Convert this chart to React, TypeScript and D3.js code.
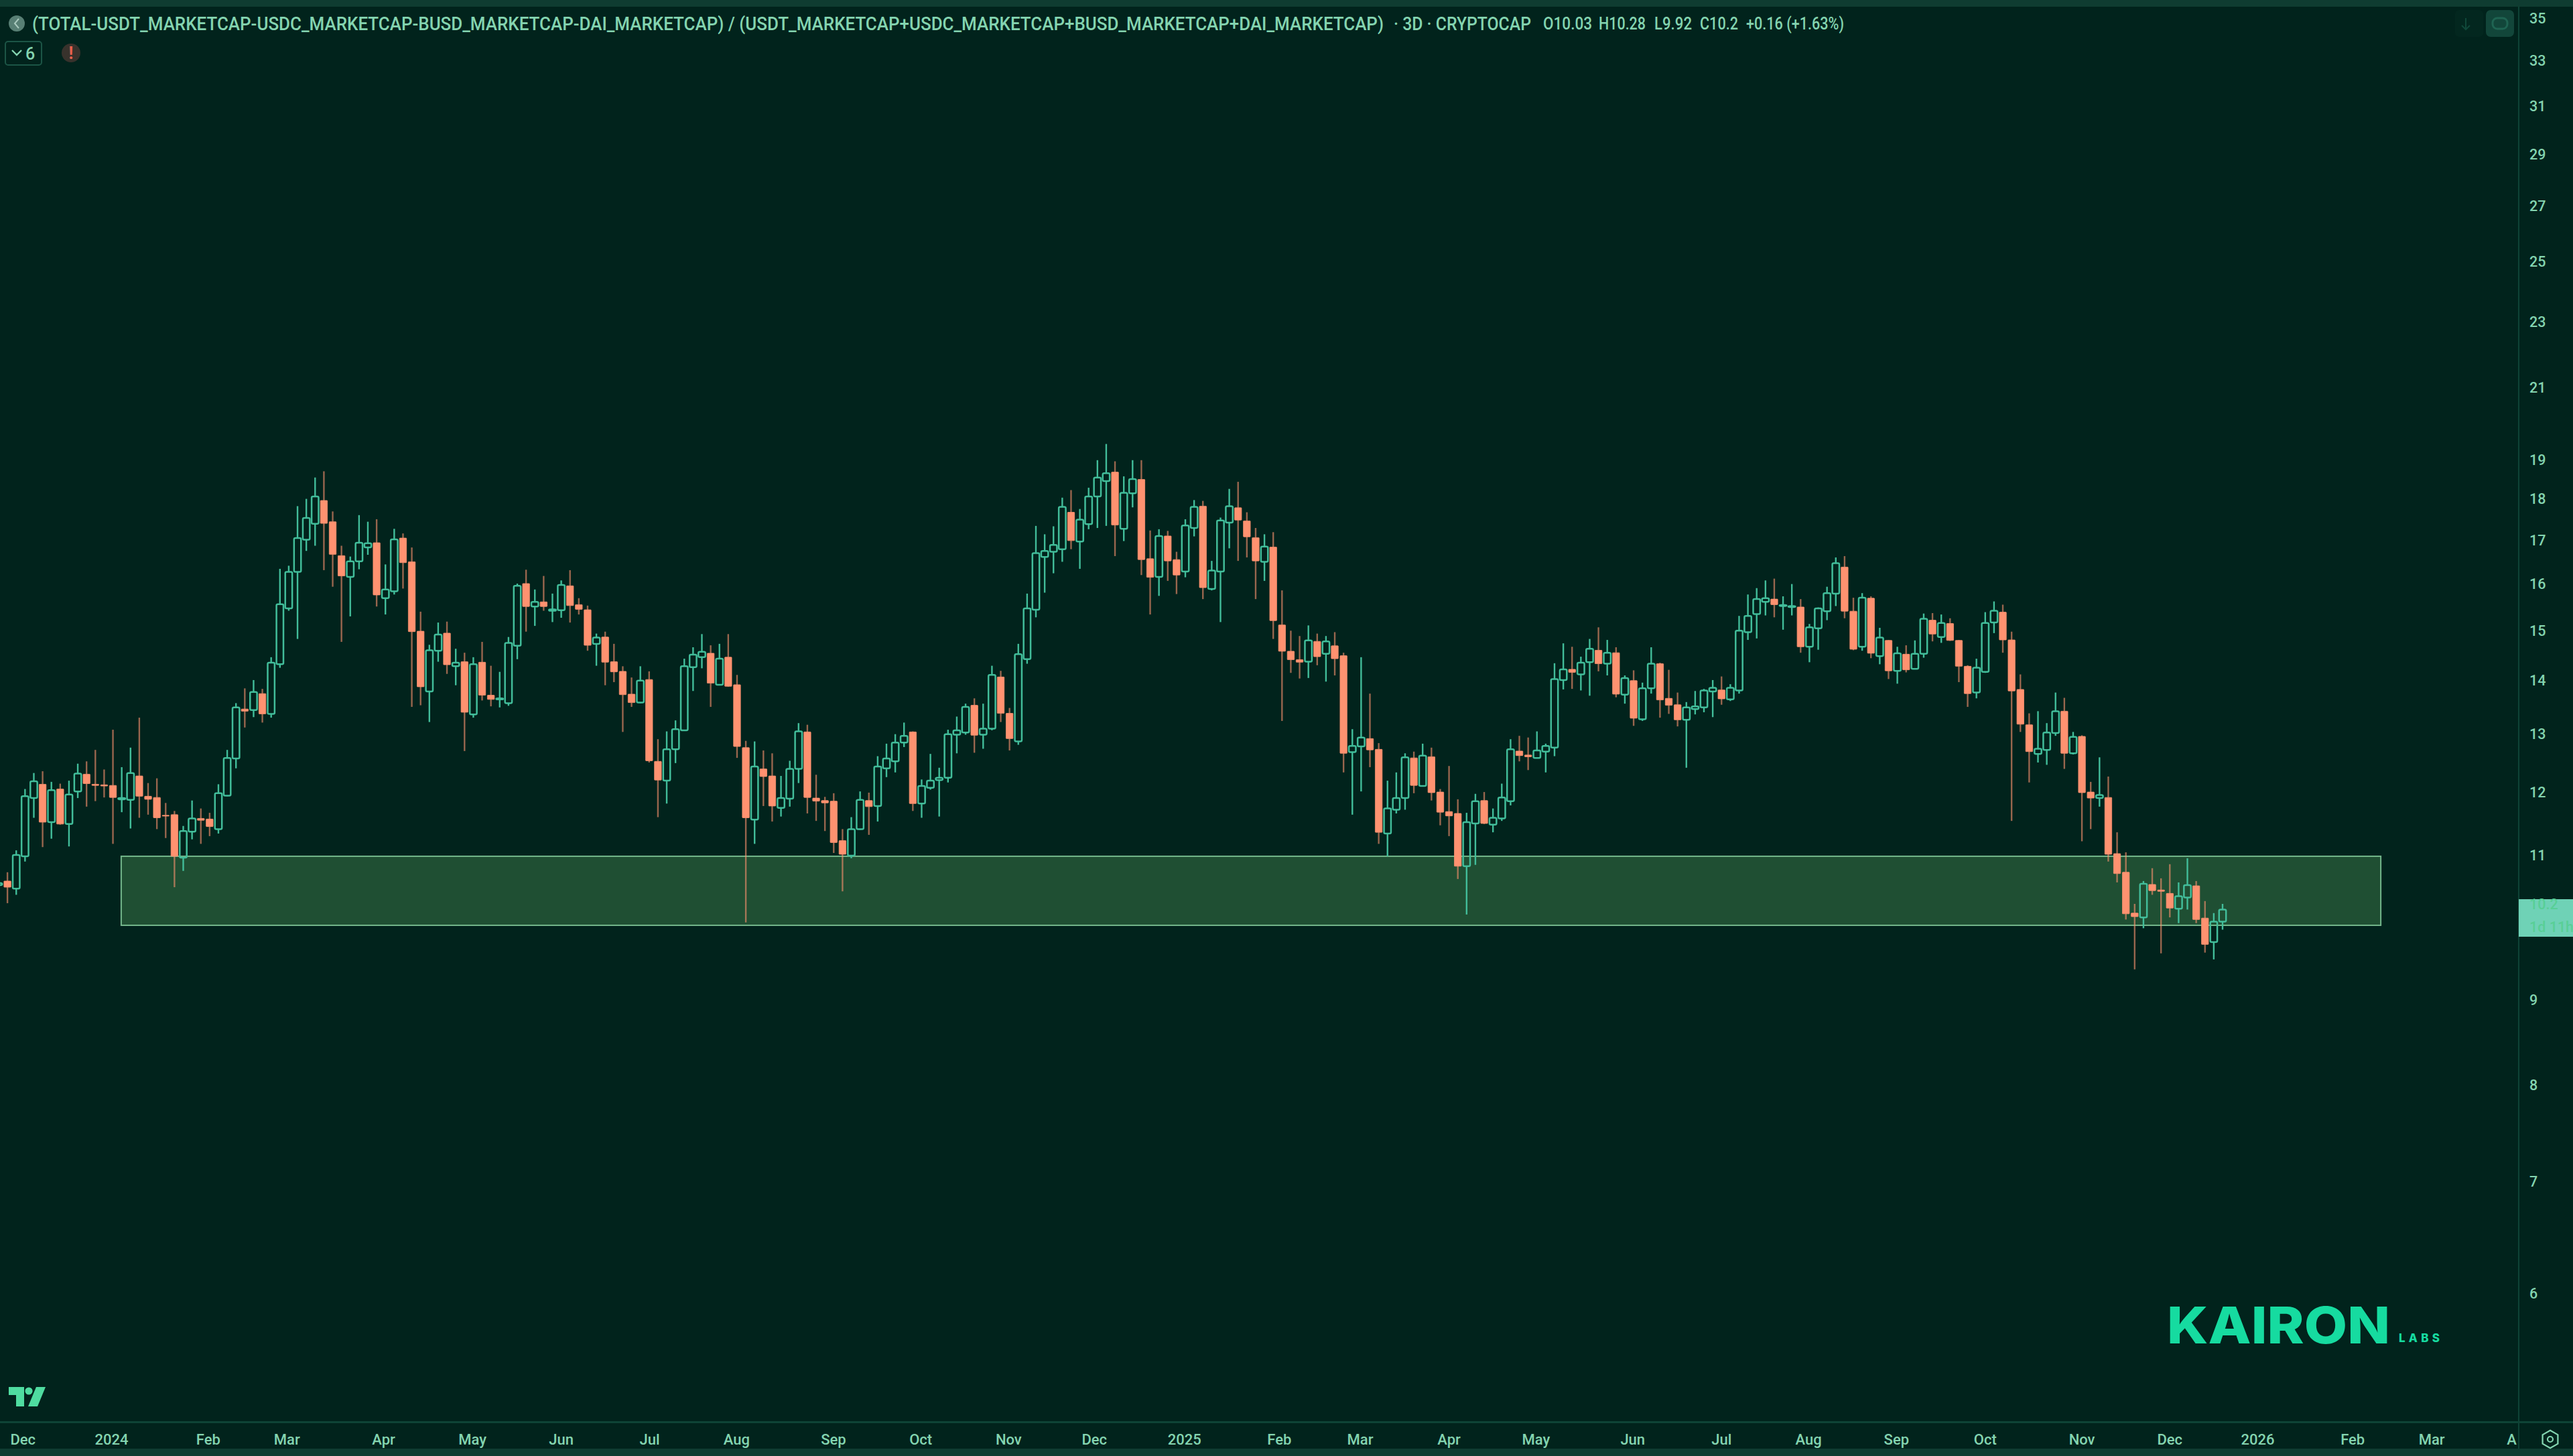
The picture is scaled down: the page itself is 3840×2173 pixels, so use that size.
import React from "react";
import * as d3 from "d3";

const opens = [10.55,10.61,10.50,10.98,11.90,12.13,11.51,12.05,11.48,12.01,12.30,12.13,12.12,12.11,11.88,11.87,12.27,11.93,11.91,11.62,11.63,10.96,11.36,11.57,11.56,11.40,11.94,12.57,13.46,13.44,13.75,13.37,14.32,15.47,16.27,17.01,17.39,17.96,17.44,16.64,16.16,16.51,16.83,16.94,15.69,15.84,17.05,16.50,14.99,13.79,14.59,14.95,14.28,14.37,13.36,14.36,13.72,13.64,13.57,14.69,16.01,15.51,15.61,15.42,15.43,15.96,15.55,15.44,14.73,14.87,14.37,14.18,13.74,13.58,14.02,12.52,12.19,12.73,13.07,14.26,14.46,14.54,13.92,14.46,13.92,12.76,11.55,12.39,12.27,11.74,11.89,12.39,13.04,11.90,11.86,11.85,11.22,10.99,11.40,11.86,11.77,12.40,12.52,12.85,13.04,11.81,12.07,
12.20,12.24,12.99,13.03,13.53,12.99,13.10,14.07,13.38,12.87,14.42,15.44,16.61,16.73,16.79,17.67,16.97,17.38,18.06,18.45,18.68,17.27,18.14,18.49,16.57,16.16,17.10,16.55,16.28,17.29,17.82,15.89,16.28,17.42,17.78,17.46,17.06,16.50,16.84,15.12,14.58,14.41,14.37,14.78,14.53,14.69,14.49,12.68,12.78,12.92,12.73,11.33,11.71,11.90,
12.58,12.10,12.60,12.00,11.68,11.65,10.83,11.49,11.86,11.47,11.57,11.85,12.70,12.63,12.58,12.69,12.76,14.01,14.22,14.12,14.36,14.60,14.33,14.55,13.73,14.00,13.27,13.85,14.33,13.66,13.54,13.26,13.46,13.49,13.79,13.82,13.64,13.81,14.97,15.35,15.61,15.67,15.52,15.50,15.50,14.67,15.05,15.41,15.79,16.38,15.41,14.67,15.69,
14.48,14.80,14.19,14.52,14.23,14.53,15.22,14.87,15.15,14.80,14.28,13.77,14.17,15.17,15.39,14.81,13.83,13.17,12.65,12.72,13.02,13.42,12.66,12.96,12.00,11.90,11.91,11.02,10.74,10.15,10.09,10.56,10.48,10.43,10.21,10.37,10.54,10.08,9.75,10.03];

const highs = [10.60,10.74,11.07,12.05,12.32,12.35,12.17,12.14,12.19,12.48,12.52,12.72,12.38,13.08,12.42,12.76,13.30,12.15,12.23,11.82,11.69,11.45,11.86,11.73,11.66,12.13,12.72,13.57,13.85,14.01,13.84,14.46,16.34,16.41,17.82,18.00,18.54,18.70,17.69,16.87,16.62,17.60,17.44,17.50,16.44,17.27,17.16,16.83,15.40,14.71,15.17,15.19,14.63,14.55,14.46,14.77,14.29,14.17,14.87,16.01,16.32,15.88,16.18,15.79,16.08,16.31,15.69,15.53,14.94,14.98,14.73,14.28,14.06,14.28,14.18,12.91,13.05,13.25,14.43,14.66,14.93,14.70,14.73,14.93,14.11,12.88,12.87,12.71,12.66,12.27,12.53,13.20,13.17,12.29,11.92,11.98,11.40,11.59,12.01,11.99,12.61,12.83,13.00,13.21,13.05,12.21,12.65,
12.41,13.08,13.32,13.56,13.66,13.56,14.29,14.19,13.48,14.73,15.79,17.34,17.14,17.33,18.03,18.22,17.75,18.28,18.99,19.42,18.96,18.57,18.99,18.99,17.23,17.26,17.22,16.73,17.50,17.97,17.95,16.52,17.54,18.25,18.43,17.67,17.29,17.14,17.19,15.86,15.00,14.89,15.11,14.94,14.89,14.97,14.55,13.09,14.46,13.75,12.84,12.19,12.33,12.66,
12.69,12.83,12.76,12.05,12.44,11.88,11.66,11.97,12.00,11.73,12.14,12.91,12.97,12.94,13.05,12.83,14.34,14.74,14.67,14.47,14.83,15.07,14.81,14.66,14.10,14.20,13.96,14.66,14.35,14.21,13.77,13.59,13.80,13.84,14.01,14.08,13.93,15.31,15.77,15.91,16.08,16.12,15.73,16.00,15.67,15.14,15.49,15.94,16.60,16.63,15.70,15.80,15.73,
15.06,14.81,14.67,14.70,14.80,15.36,15.37,15.34,15.26,14.81,14.30,14.43,15.39,15.62,15.55,14.98,14.12,13.38,13.42,13.20,13.77,13.67,13.04,12.98,12.17,12.59,12.26,11.35,11.04,10.28,10.61,10.80,10.65,10.86,10.59,10.95,10.61,10.32,10.15,10.28];

const lows = [10.48,10.29,10.41,10.90,11.58,11.12,11.25,11.47,11.13,11.90,11.76,11.85,11.91,11.17,11.67,11.41,11.58,11.63,11.40,11.26,10.52,10.76,11.24,11.17,11.29,11.33,11.93,12.40,13.12,13.31,13.21,13.30,14.25,15.42,14.83,16.75,16.87,16.31,15.94,14.77,15.30,16.33,16.66,15.51,15.34,15.77,15.90,13.50,13.53,13.22,14.37,14.13,13.91,12.70,13.30,13.62,13.51,13.49,13.52,14.42,14.98,15.10,15.42,15.18,15.27,15.17,15.34,14.59,14.29,13.91,13.97,13.04,13.50,13.57,12.50,11.59,11.81,12.49,13.06,13.80,14.24,13.50,13.91,13.88,12.58,10.02,11.17,11.77,11.52,11.60,11.76,12.15,11.65,11.53,11.37,11.03,10.46,10.95,11.39,11.31,11.52,12.25,12.33,12.77,11.69,11.58,12.04,
11.60,12.16,12.66,12.99,12.67,12.74,13.07,13.22,12.71,12.81,14.33,15.28,15.81,16.24,16.50,16.79,16.34,17.26,17.29,17.34,16.63,16.98,17.79,16.20,15.34,15.74,16.07,15.78,16.15,17.09,15.67,15.86,15.18,16.81,16.52,16.60,15.67,16.07,14.83,13.24,14.15,14.04,14.05,14.30,13.98,14.10,12.33,11.63,12.01,12.42,11.17,10.98,11.65,11.71,
11.98,12.09,11.86,11.46,11.29,10.64,10.13,10.85,11.48,11.35,11.53,11.78,12.52,12.37,12.57,12.33,12.61,13.83,13.84,13.81,13.71,14.18,14.10,13.68,13.56,13.15,13.24,13.75,13.30,13.37,13.14,12.41,13.36,13.40,13.31,13.54,13.61,13.75,14.81,14.84,15.32,15.28,15.02,15.32,14.55,14.36,14.61,15.22,15.52,15.26,14.60,14.59,14.44,
14.32,14.03,13.94,14.16,14.22,14.45,14.78,14.75,14.79,13.97,13.50,13.66,14.15,14.95,14.55,11.53,13.04,12.16,12.50,12.46,12.97,12.39,12.64,11.21,11.40,11.76,10.90,10.59,10.06,9.39,9.94,10.41,9.60,10.09,10.01,10.20,10.01,9.61,9.52,9.92];

const closes = [10.58,10.52,11.00,11.93,12.18,11.51,12.03,11.48,11.96,12.31,12.14,12.11,12.10,11.91,11.90,12.32,11.93,11.88,11.58,11.61,10.98,11.37,11.57,11.54,11.44,11.98,12.58,13.49,13.42,13.78,13.37,14.35,15.56,16.27,17.05,17.53,18.06,17.40,16.67,16.18,16.51,16.94,16.93,15.76,15.88,17.02,16.48,14.98,13.88,14.60,14.92,14.31,14.35,13.40,14.32,13.72,13.64,13.66,14.75,15.96,15.51,15.61,15.51,15.45,15.98,15.53,15.45,14.70,14.86,14.36,14.17,13.73,13.58,14.00,12.53,12.20,12.73,13.09,14.28,14.51,14.57,13.95,14.43,13.89,12.78,11.58,12.43,12.26,11.77,11.90,12.39,13.05,11.91,11.85,11.82,11.19,11.01,11.40,11.87,11.76,12.43,12.57,12.85,12.97,11.81,12.10,12.19,
12.24,13.00,13.07,13.50,12.98,13.10,14.11,13.38,12.92,14.52,15.47,16.70,16.75,16.89,17.80,16.99,17.49,18.06,18.54,18.65,17.36,18.15,18.50,16.55,16.15,17.10,16.52,16.20,17.35,17.80,15.92,16.30,17.47,17.82,17.48,17.08,16.52,16.85,15.21,14.58,14.41,14.36,14.80,14.47,14.78,14.43,12.66,12.79,12.94,12.72,11.35,11.73,11.90,12.59,
12.11,12.62,11.99,11.67,11.61,10.83,11.51,11.85,11.49,11.58,11.91,12.73,12.62,12.60,12.71,12.79,14.03,14.22,14.16,14.35,14.63,14.33,14.55,13.74,14.05,13.29,13.85,14.33,13.63,13.53,13.26,13.49,13.51,13.81,13.86,13.65,13.86,15.00,15.31,15.67,15.69,15.55,15.54,15.52,14.67,15.07,15.47,15.80,16.47,15.41,14.62,15.70,14.54,
14.86,14.19,14.54,14.21,14.53,15.25,14.93,15.16,14.80,14.28,13.75,14.25,15.16,15.42,14.81,13.80,13.18,12.69,12.74,13.03,13.42,12.66,12.95,11.99,11.90,11.95,11.01,10.72,10.14,10.10,10.57,10.47,10.46,10.22,10.39,10.55,10.06,9.72,10.03,10.20];

const priceTicks = [35,33,31,29,27,25,23,21,19,18,17,16,15,14,13,12,11,9,8,7,6];
const timeLabels = ["Dec","2024","Feb","Mar","Apr","May","Jun","Jul","Aug","Sep","Oct","Nov","Dec","2025","Feb","Mar","Apr","May","Jun","Jul","Aug","Sep","Oct","Nov","Dec","2026","Feb","Mar","A"];
const timeBars = [2.76,12.84,23.85,32.8,43.8,53.9,64,74.06,83.96,94.97,104.9,114.9,124.65,134.9,145.7,154.9,165,174.9,185.9,196,205.9,215.9,226,237,247,257,267.8,276.8,285.9];
const zoneBars = [13.94, 271];
const zonePrices = [10.98, 9.98];
const lastPrice = 10.2;

const BG = "#01231c";
const BAND = "#0f3c31";
const AXIS = "#0e4336";
const TXT = "#84d4b0";
const UP = "#42bd9a";
const DOWN = "#ff9270";
const FONT = "Roboto, 'Liberation Sans', sans-serif";

const W = 3840;
const H = 2173;
const x = d3.scaleLinear().domain([0, 253]).range([-2, 3317]);
const y = d3.scaleLog().domain([6, 35]).range([1930, 27]);
const BODY = 10.4;

function Squeezed(props: { x: number; y: number; sx: number; width: number; children: React.ReactNode }) {
  return (
    <text
      transform={`translate(${props.x} ${props.y}) scale(${props.sx} 1)`}
      textLength={props.width / props.sx}
      lengthAdjust="spacingAndGlyphs"
    >
      {props.children}
    </text>
  );
}

export default function App() {
  return (
    <svg width={W} height={H} viewBox={`0 0 ${W} ${H}`} style={{ position: "fixed", left: 0, top: 0, display: "block" }} fontFamily={FONT}>
      <rect width={W} height={H} fill={BG} />
      <rect width={W} height={10} fill={BAND} />
      <rect y={2162} width={W} height={11} fill={BAND} />
      <rect y={2121} width={W} height={3} fill={AXIS} />
      <rect x={3758} y={10} width={2} height={2152} fill={AXIS} />

      {/* zone */}
      <rect
        x={x(zoneBars[0])}
        y={y(zonePrices[0])}
        width={x(zoneBars[1]) - x(zoneBars[0])}
        height={y(zonePrices[1]) - y(zonePrices[0])}
        fill="#1f4f33"
        stroke="#74b78c"
        strokeWidth={2}
      />

      {/* candles */}
      {opens.map((o, i) => {
        const c = closes[i];
        const up = c >= o;
        const cx = x(i);
        const top = y(Math.max(o, c));
        const bot = y(Math.min(o, c));
        const col = up ? UP : DOWN;
        return (
          <g key={i}>
            <line x1={cx} x2={cx} y1={y(highs[i])} y2={top} stroke={col} strokeWidth={2.4} strokeOpacity={up ? 1 : 0.6} />
            <line x1={cx} x2={cx} y1={bot} y2={y(lows[i])} stroke={col} strokeWidth={2.4} strokeOpacity={up ? 1 : 0.6} />
            <rect
              x={cx - BODY / 2}
              y={top}
              width={BODY}
              height={Math.max(bot - top, 1.2)}
              rx={up ? 2 : 0.6}
              fill={up ? "none" : DOWN}
              stroke={col}
              strokeWidth={up ? 2.5 : 0.8}
            />
          </g>
        );
      })}

      {/* legend */}
      <circle cx={25} cy={35} r={12} fill="#587f74" />
      <path d="M28 28 L22 35 L28 42" fill="none" stroke="#a9c9bd" strokeWidth={2} />
      <g fill={TXT} fontSize={28} fontWeight={500}>
        <Squeezed x={48} y={45} sx={0.8} width={2017}>(TOTAL-USDT_MARKETCAP-USDC_MARKETCAP-BUSD_MARKETCAP-DAI_MARKETCAP) / (USDT_MARKETCAP+USDC_MARKETCAP+BUSD_MARKETCAP+DAI_MARKETCAP)</Squeezed>
        <Squeezed x={2080} y={45} sx={0.72} width={205}>· 3D · CRYPTOCAP</Squeezed>
      </g>
      <g fill={TXT} fontSize={25} fontWeight={500}>
        <Squeezed x={2303} y={44} sx={0.8} width={73}>O10.03</Squeezed>
        <Squeezed x={2386} y={44} sx={0.8} width={70}>H10.28</Squeezed>
        <Squeezed x={2469} y={44} sx={0.8} width={56}>L9.92</Squeezed>
        <Squeezed x={2537} y={44} sx={0.8} width={57}>C10.2</Squeezed>
        <Squeezed x={2606} y={44} sx={0.8} width={146}>+0.16 (+1.63%)</Squeezed>
      </g>
      <rect x={8} y={62} width={54} height={35} rx={4} fill="none" stroke="#1c5546" strokeWidth={2} />
      <path d="M18 75 L25 82 L32 75" fill="none" stroke={TXT} strokeWidth={2.4} />
      <text x={38} y={89} fill={TXT} fontSize={25} fontWeight={500}>6</text>
      <circle cx={106} cy={79} r={14} fill="#38322c" />
      <text x={106} y={88} fill="#e8624f" fontSize={25} fontWeight={700} textAnchor="middle">!</text>

      {/* top right buttons */}
      <rect x={3664} y={15} width={42} height={40} rx={6} fill="#03271f" />
      <path d="M3680 27 V44 M3674 38 L3680 44 L3686 38" fill="none" stroke="#10483a" strokeWidth={2} />
      <rect x={3710} y={15} width={42} height={40} rx={7} fill="#12463a" />
      <rect x={3720} y={27} width={22} height={16} rx={7} fill="none" stroke="#1f6452" strokeWidth={3} />

      {/* y axis */}
      <g fill={TXT} fontSize={21.5} fontWeight={500}>
        {priceTicks.map((t) => (
          <text key={t} x={3775} y={y(t)} dy="0.36em">{t}</text>
        ))}
      </g>
      <rect x={3759} y={1342} width={81} height={56} fill="#6fd2b6" />
      <text x={3775} y={y(lastPrice) - 3} fill="#58cf96" fontSize={21.5} fontWeight={500} dy="0.1em">{lastPrice}</text>
      <text x={3775} y={1391} fill="#58cf96" fontSize={21.5} fontWeight={500}>1d 11h</text>

      {/* x axis */}
      <g fill={TXT} fontSize={22} fontWeight={500} textAnchor="middle">
        {timeLabels.map((t, i) => (
          <text key={i} x={x(timeBars[i])} y={2156}>{t}</text>
        ))}
      </g>
      <path d="M3806 2134 L3818 2141 L3818 2155 L3806 2162 L3794 2155 L3794 2141 Z" transform="translate(3806 2148) scale(0.95) translate(-3806 -2148)" fill="none" stroke={TXT} strokeWidth={2.4} />
      <circle cx={3806} cy={2148} r={4} fill="none" stroke={TXT} strokeWidth={2.2} />

      {/* TradingView mark */}
      <g transform="translate(13 2070)" fill="#4fdca0">
        <path d="M0 0 H23 V29 H11 V12 H0 Z" />
        <circle cx={30} cy={6} r={5.6} />
        <path d="M41 0 H55 L43 29 H29 Z" />
      </g>

      {/* Kairon mark */}
      <text x={3234} y={2005} fill="#16dba0" fontFamily="Inter, Roboto, sans-serif" fontWeight={800} fontSize={76} textLength={333} lengthAdjust="spacingAndGlyphs">KAIRON</text>
      <text x={3580} y={2003} fill="#16dba0" fontFamily="Inter, Roboto, sans-serif" fontWeight={800} fontSize={17} textLength={61} lengthAdjust="spacing">LABS</text>
    </svg>
  );
}
